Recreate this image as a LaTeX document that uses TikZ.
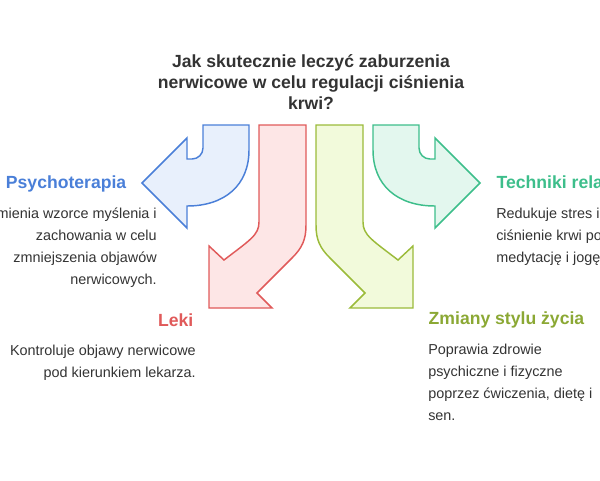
\documentclass[tikz,border=0pt]{standalone}
\usepackage{fontspec}
\setmainfont{Liberation Sans}
\definecolor{cb}{HTML}{4A7FD8}\definecolor{fb}{HTML}{E8F0FC}
\definecolor{cr}{HTML}{E05A5A}\definecolor{fr}{HTML}{FDE6E6}
\definecolor{co}{HTML}{9BBB3A}\definecolor{fo}{HTML}{F2FADB}
\definecolor{ct}{HTML}{3DBE8B}\definecolor{ft}{HTML}{E3F7EE}
\definecolor{tx}{HTML}{333333}
\begin{document}
\begin{tikzpicture}[x=0.75pt,y=-0.75pt,
  arr/.style={line width=1.1pt,line join=miter},
  head/.style={font=\bfseries\fontsize{13.2}{14}\selectfont},
  body/.style={text=tx,font=\fontsize{10.8}{16.5}\selectfont,inner sep=0pt}]
\useasboundingbox (0,0) rectangle (600,480);
\clip (0,0) rectangle (600,480);
\node[text=tx,font=\bfseries\fontsize{13.2}{15.5}\selectfont,align=center] (title) at (311,82)
 {Jak skutecznie leczyć zaburzenia\\nerwicowe w celu regulacji ciśnienia\\krwi?};
% blue
\draw[arr,draw=cb,fill=fb] (203,125) -- (203,148) arc[start angle=0,end angle=90,radius=11] -- (187,159) -- (187,138) -- (142,183) -- (187,228) -- (187,206) .. controls (225,206) and (249,185) .. (249,150) -- (249,125) -- cycle;
% teal
\begin{scope}[xshift=622*0.75pt,x=-0.75pt]
\draw[arr,draw=ct,fill=ft] (203,125) -- (203,148) arc[start angle=0,end angle=90,radius=11] -- (187,159) -- (187,138) -- (142,183) -- (187,228) -- (187,206) .. controls (225,206) and (249,185) .. (249,150) -- (249,125) -- cycle;
\end{scope}
% red
\draw[arr,draw=cr,fill=fr] (259,125) -- (259,222) .. controls (259,235) and (250,240) .. (224,260) -- (209,246) -- (209,308) -- (272,308) -- (257,293) -- (292,258) .. controls (302,248) and (306,240) .. (306,225) -- (306,125) -- cycle;
\begin{scope}[xshift=622*0.75pt,x=-0.75pt]
\draw[arr,draw=co,fill=fo] (259,125) -- (259,222) .. controls (259,235) and (250,240) .. (224,260) -- (209,246) -- (209,308) -- (272,308) -- (257,293) -- (292,258) .. controls (302,248) and (306,240) .. (306,225) -- (306,125) -- cycle;
\end{scope}
\node[head,text=cb,anchor=east] (psy) at (131,184) {Psychoterapia};
\node[body,anchor=north east,align=right] (psyt) at (157,208) {Zmienia wzorce myślenia i\\zachowania w celu\\zmniejszenia objawów\\nerwicowych.};
\node[head,text=ct,anchor=west] (tech) at (492,184) {Techniki relaksacyjne};
\node[body,anchor=north west,align=left] (techt) at (496,208) {Redukuje stres i\\ciśnienie krwi poprzez\\medytację i jogę.};
\node[head,text=cr,anchor=east] (leki) at (198,320) {Leki};
\node[body,anchor=north east,align=right] (lekit) at (196,345) {Kontroluje objawy nerwicowe\\pod kierunkiem lekarza.};
\node[head,text=co!90!black,anchor=west] (zm) at (424,320) {Zmiany stylu życia};
\node[body,anchor=north west,align=left] (zmt) at (428,344) {Poprawia zdrowie\\psychiczne i fizyczne\\poprzez ćwiczenia, dietę i\\sen.};
\end{tikzpicture}
\end{document}
